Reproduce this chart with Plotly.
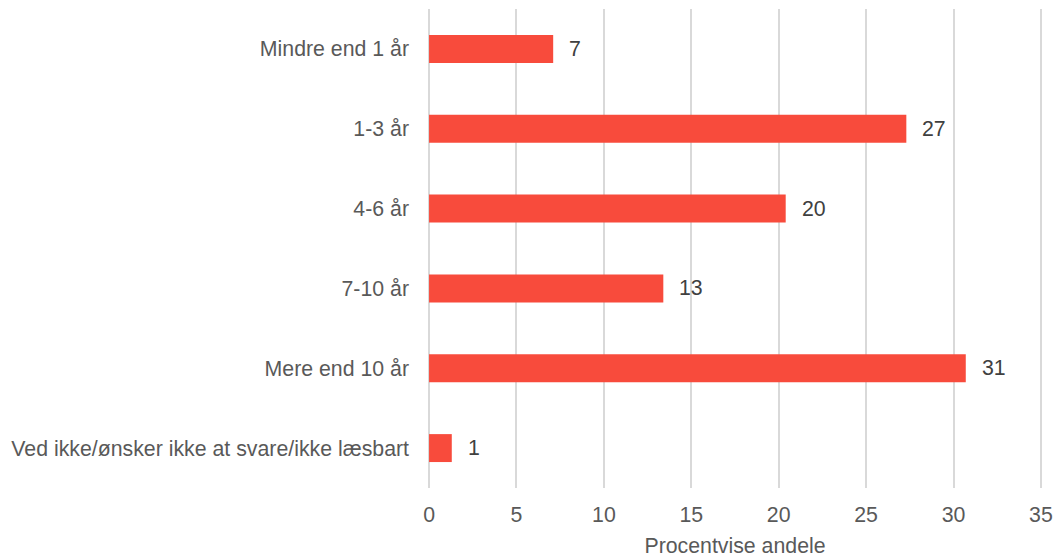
import plotly.graph_objects as go

categories = [
    "Mindre end 1 år",
    "1-3 år",
    "4-6 år",
    "7-10 år",
    "Mere end 10 år",
    "Ved ikke/ønsker ikke at svare/ikke læsbart",
]
values = [7.1, 27.3, 20.4, 13.4, 30.7, 1.3]
labels = ["7", "27", "20", "13", "31", "1"]
x_ticks = [0, 5, 10, 15, 20, 25, 30, 35]

BAR_COLOR = "#F84B3C"
TEXT = "#595959"
FONT = "Liberation Sans, Arial, sans-serif"
FS = 21.3

fig = go.Figure(
    go.Bar(
        x=values,
        y=categories,
        orientation="h",
        marker=dict(color=BAR_COLOR, line=dict(width=0)),
        hoverinfo="skip",
    )
)

for cat, v, lab in zip(categories, values, labels):
    fig.add_annotation(
        x=v, y=cat, text=lab, showarrow=False, xanchor="left", yanchor="middle",
        xshift=14, font=dict(family=FONT, size=FS, color="#404040"),
    )

fig.update_layout(
    width=1057,
    height=558,
    margin=dict(l=428, r=15, t=9, b=70),
    paper_bgcolor="white",
    plot_bgcolor="white",
    bargap=0.65,
    showlegend=False,
    font=dict(family=FONT, size=FS, color=TEXT),
    xaxis=dict(
        range=[-0.06, 35.06],
        tickvals=x_ticks,
        showgrid=True,
        gridcolor="#d9d9d9",
        gridwidth=2,
        zeroline=False,
        showline=False,
        ticks="",
        automargin=False,
        ticklabelstandoff=12,
        tickfont=dict(size=FS, color=TEXT),
        title=dict(text="Procentvise andele", font=dict(size=FS, color=TEXT), standoff=14),
    ),
    yaxis=dict(
        categoryorder="array",
        categoryarray=categories[::-1],
        showgrid=False,
        zeroline=False,
        showline=False,
        ticks="",
        automargin=False,
        ticklabelstandoff=18,
        tickfont=dict(size=FS, color=TEXT),
    ),
)

fig.write_html("out.html")
